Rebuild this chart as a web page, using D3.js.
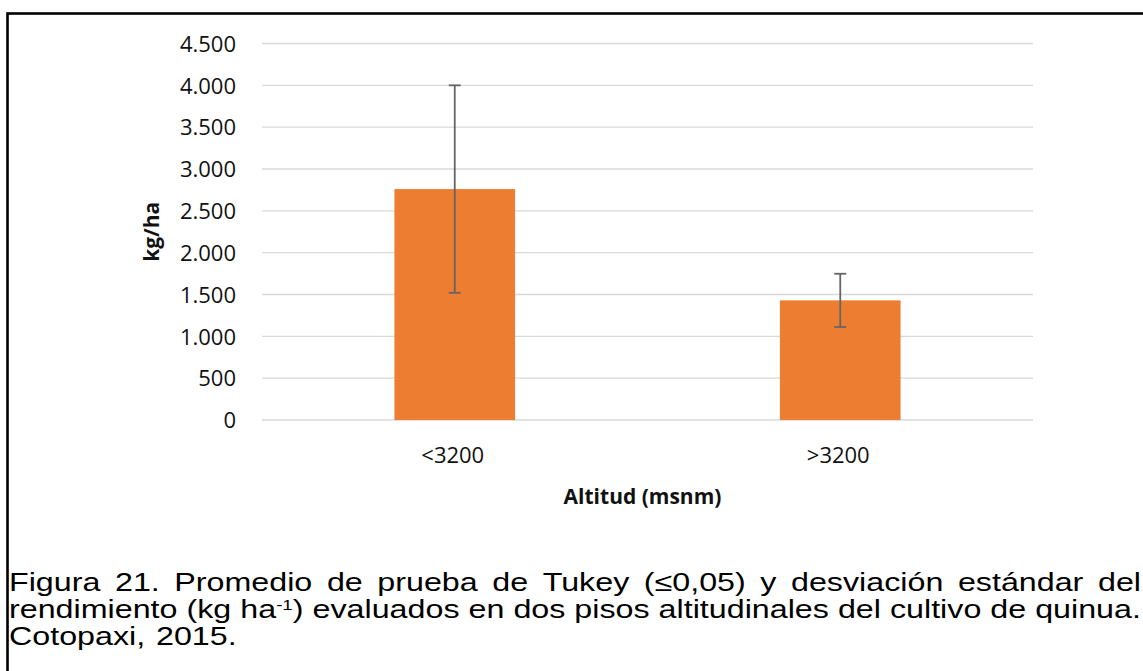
<!DOCTYPE html>
<html>
<head>
<meta charset="utf-8">
<script src="https://cdn.jsdelivr.net/npm/d3@7"></script>
<style>
  html, body { margin: 0; padding: 0; background: #fff; }
  svg { display: block; }
</style>
</head>
<body>
<svg id="chart" width="1143" height="671"></svg>
<script>
// ---- data ----
const categories = ["<3200", ">3200"];
const meanValues = [2760, 1430];
const sdValues = [1240, 318];
const yTickValues = [0, 500, 1000, 1500, 2000, 2500, 3000, 3500, 4000, 4500];
const yAxisTitle = "kg/ha";
const xAxisTitle = "Altitud (msnm)";
const captionLines = [
  [[{t:"Figura"}],[{t:"21."}],[{t:"Promedio"}],[{t:"de"}],[{t:"prueba"}],[{t:"de"}],[{t:"Tukey"}],[{t:"(≤0,05)"}],[{t:"y"}],[{t:"desviación"}],[{t:"estándar"}],[{t:"del"}]],
  [[{t:"rendimiento"}],[{t:"(kg"}],[{t:"ha"},{t:"-1",sup:true},{t:")"}],[{t:"evaluados"}],[{t:"en"}],[{t:"dos"}],[{t:"pisos"}],[{t:"altitudinales"}],[{t:"del"}],[{t:"cultivo"}],[{t:"de"}],[{t:"quinua."}]],
  [[{t:"Cotopaxi,"}],[{t:"2015."}]]
];

const svg = d3.select("#chart");

// frame
svg.append("rect")
  .attr("x", 7.5).attr("y", 13.5)
  .attr("width", 1300).attr("height", 800)
  .attr("fill", "none").attr("stroke", "#000").attr("stroke-width", 2.6);

const plot = { left: 262, right: 1033, top: 43.5, bottom: 420 };

const y = d3.scaleLinear().domain([0, 4500]).range([plot.bottom, plot.top]);
const x = d3.scaleBand().domain(categories).range([plot.left, plot.right]).padding(0);
const barW = x.bandwidth() * 0.313;

const locale = d3.formatLocale({ decimal: ",", thousands: ".", grouping: [3], currency: ["", ""] });
const fmt = locale.format(",d");

const chartFont = "'Open Sans', 'DejaVu Sans', sans-serif";

// gridlines
svg.append("g").selectAll("line").data(yTickValues).join("line")
  .attr("x1", plot.left).attr("x2", plot.right)
  .attr("y1", d => y(d)).attr("y2", d => y(d))
  .attr("stroke", "#d9d9d9").attr("stroke-width", 1.3);

// y axis labels via d3 axis
const yAxis = d3.axisLeft(y).tickValues(yTickValues).tickFormat(fmt).tickSize(0).tickPadding(0);
const yg = svg.append("g").attr("transform", `translate(236,0)`).call(yAxis);
yg.select(".domain").remove();
yg.selectAll("text")
  .attr("font-family", chartFont).attr("font-size", 22)
  .attr("fill", "#111").attr("dy", "0.35em").attr("x", 0);

// x axis labels
const xAxis = d3.axisBottom(x).tickSize(0).tickPadding(0);
const xg = svg.append("g").call(xAxis);
xg.select(".domain").remove();
xg.selectAll("text")
  .attr("font-family", chartFont).attr("font-size", 22)
  .attr("fill", "#111").attr("y", 455).attr("dy", "0.35em").attr("dx", -2);

// bars
svg.append("g").selectAll("rect").data(categories).join("rect")
  .attr("x", d => x(d) + x.bandwidth() / 2 - barW / 2)
  .attr("width", barW)
  .attr("y", (d, i) => y(meanValues[i]))
  .attr("height", (d, i) => y(0) - y(meanValues[i]))
  .attr("fill", "#ED7D31");

// error bars
const eg = svg.append("g").attr("stroke", "#656565").attr("stroke-width", 1.8).attr("fill", "none");
categories.forEach((c, i) => {
  const cx = x(c) + x.bandwidth() / 2;
  const hi = y(meanValues[i] + sdValues[i]);
  const lo = y(meanValues[i] - sdValues[i]);
  eg.append("line").attr("x1", cx).attr("x2", cx).attr("y1", hi).attr("y2", lo);
  eg.append("line").attr("x1", cx - 6).attr("x2", cx + 6).attr("y1", hi).attr("y2", hi);
  eg.append("line").attr("x1", cx - 6).attr("x2", cx + 6).attr("y1", lo).attr("y2", lo);
});

// axis titles
svg.append("text")
  .attr("transform", `translate(159,${(plot.top + plot.bottom) / 2}) rotate(-90)`)
  .attr("text-anchor", "middle")
  .attr("font-family", chartFont).attr("font-weight", "bold").attr("font-size", 21)
  .attr("fill", "#111").text(yAxisTitle);

svg.append("text")
  .attr("x", (plot.left + plot.right) / 2 - 5).attr("y", 497).attr("dy", "0.35em")
  .attr("text-anchor", "middle")
  .attr("font-family", chartFont).attr("font-weight", "bold").attr("font-size", 21)
  .attr("fill", "#111").text(xAxisTitle);

// caption (justified)
const capSize = 26;
const capLeft = 9, capRight = 1141;
const baselines = [591, 618, 645];
const capG = svg.append("g")
  .attr("font-family", "'Liberation Sans', Arial, sans-serif").attr("font-size", capSize).attr("fill", "#000");

const spaceW = capG.append("text").text("a a").node().getComputedTextLength()
  - capG.append("text").text("aa").node().getComputedTextLength();
capG.selectAll("text").remove();

const supRise = capSize * 0.32;
const lineNodes = captionLines.map((words, li) => words.map(segs => {
  const t = capG.append("text").attr("y", baselines[li]);
  segs.forEach((s, k) => {
    const ts = t.append("tspan").text(s.t);
    if (s.sup) ts.attr("font-size", capSize * 0.58).attr("dy", -supRise);
    else if (k > 0 && segs[k - 1].sup) ts.attr("dy", supRise);
  });
  return t;
}));
const lineWidths = lineNodes.map(ns => ns.map(n => n.node().getComputedTextLength()));
const natural2 = d3.sum(lineWidths[1]) + spaceW * (lineWidths[1].length - 1);
const sx = (capRight - capLeft) / natural2;
capG.attr("transform", `scale(${sx},1)`);
lineNodes.forEach((nodes, li) => {
  const widths = lineWidths[li];
  const avail = (capRight - capLeft) / sx;
  const gap = (li < lineNodes.length - 1) ? (avail - d3.sum(widths)) / (widths.length - 1) : spaceW * 1.2;
  let cx = capLeft / sx;
  nodes.forEach((n, k) => { n.attr("x", cx); cx += widths[k] + gap; });
});
</script>
</body>
</html>
